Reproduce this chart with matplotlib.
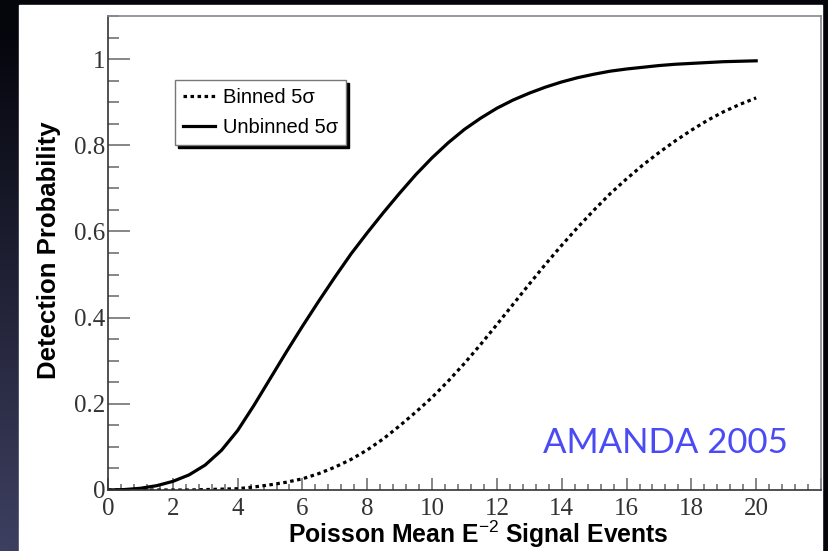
import matplotlib.pyplot as plt
import numpy as np
from matplotlib.patches import Rectangle
from matplotlib.ticker import MultipleLocator

plt.rcParams['mathtext.fontset'] = 'custom'
plt.rcParams['mathtext.rm'] = 'Liberation Sans'
plt.rcParams['mathtext.bf'] = 'Liberation Sans:bold'

# Poisson mean of E^-2 signal events
signal_events = [0.0, 0.5, 1.0, 1.5, 2.0, 2.5, 3.0, 3.5, 4.0, 4.5,
                 5.0, 5.5, 6.0, 6.5, 7.0, 7.5, 8.0, 8.5, 9.0, 9.5,
                 10.0, 10.5, 11.0, 11.5, 12.0, 12.5, 13.0, 13.5, 14.0, 14.5,
                 15.0, 15.5, 16.0, 16.5, 17.0, 17.5, 18.0, 18.5, 19.0, 19.5, 20.0]

# detection probability for a 5 sigma discovery
binned_5sigma = [0.000, 0.000, 0.000, 0.000, 0.000, 0.000, 0.001, 0.002, 0.003, 0.007,
                 0.012, 0.018, 0.026, 0.038, 0.053, 0.071, 0.093, 0.119, 0.149, 0.181,
                 0.215, 0.253, 0.294, 0.338, 0.384, 0.431, 0.478, 0.524, 0.568, 0.610,
                 0.650, 0.688, 0.722, 0.754, 0.783, 0.810, 0.835, 0.858, 0.878, 0.895, 0.910]
unbinned_5sigma = [0.000, 0.001, 0.004, 0.010, 0.020, 0.035, 0.058, 0.092, 0.138, 0.196,
                   0.258, 0.320, 0.380, 0.438, 0.494, 0.548, 0.597, 0.644, 0.689, 0.732,
                   0.771, 0.806, 0.837, 0.863, 0.886, 0.905, 0.921, 0.935, 0.947, 0.957,
                   0.965, 0.972, 0.977, 0.981, 0.985, 0.988, 0.990, 0.992, 0.994, 0.995, 0.996]

W, H = 829, 551
fig = plt.figure(figsize=(W / 100, H / 100), dpi=100)

# slide background: dark navy glow from the lower left, white panel on top
bg = fig.add_axes([0, 0, 1, 1])
bg.axis('off')
yy, xx = np.mgrid[0:H, 0:W]
glow = np.clip(1 - np.hypot(xx / 700.0, (H - yy) / 520.0), 0, 1)
dark = np.array([0.02, 0.02, 0.05])
navy = np.array([0.24, 0.25, 0.38])
bg.imshow(dark + glow[..., None] * (navy - dark), extent=(0, W, H, 0), aspect='auto')
bg.add_patch(Rectangle((19, 5), 803, 546, color='white'))
bg.set_xlim(0, W)
bg.set_ylim(H, 0)

ax = fig.add_axes([108 / W, 1 - 490 / H, 713 / W, 474 / H])
ax.plot(signal_events, binned_5sigma, color='black', lw=2.3,
        linestyle=(0, (1.1, 1.1)), dash_capstyle='butt', label='Binned 5σ')
ax.plot(signal_events, unbinned_5sigma, color='black', lw=2.3, label='Unbinned 5σ')

ax.set_xlim(0, 22)
ax.set_ylim(0, 1.1)
ax.xaxis.set_major_locator(MultipleLocator(2))
ax.xaxis.set_minor_locator(MultipleLocator(0.4))
ax.yaxis.set_major_locator(MultipleLocator(0.2))
ax.yaxis.set_minor_locator(MultipleLocator(0.05))
ax.xaxis.set_major_formatter(plt.FuncFormatter(lambda v, p: f'{v:g}' if v <= 20 else ''))
ax.yaxis.set_major_formatter(plt.FuncFormatter(lambda v, p: f'{v:g}'))

ax.tick_params(which='both', direction='in', color='#666666', width=1.1,
               labelcolor='#333333', labelsize=18)
ax.tick_params(axis='x', which='major', length=8.5, pad=6)
ax.tick_params(axis='x', which='minor', length=4.5)
ax.tick_params(axis='y', which='major', length=16, pad=2)
ax.tick_params(axis='y', which='minor', length=8)
for lab in ax.get_xticklabels() + ax.get_yticklabels():
    lab.set_family('Liberation Serif')

for side in ['left', 'bottom']:
    ax.spines[side].set_color('#333333')
    ax.spines[side].set_linewidth(1.2)
for side in ['top', 'right']:
    ax.spines[side].set_color('#888888')
    ax.spines[side].set_linewidth(1.2)

ax.set_ylabel('Detection Probability', family='Liberation Sans',
              fontweight='bold', fontsize=18.5)
ax.yaxis.set_label_coords(-0.066, 0.506)
ax.set_xlabel(r'Poisson Mean E$^{\mathrm{-2}}$ Signal Events', family='Liberation Sans',
              fontweight='bold', fontsize=17.8)
ax.xaxis.set_label_coords(0.519, -0.061)

leg = ax.legend(loc='upper left', bbox_to_anchor=(0.094, 0.865), fancybox=False,
                shadow={'color': 'black', 'alpha': 1.0}, framealpha=1,
                edgecolor='#777777', borderaxespad=0, handlelength=1.6,
                handletextpad=0.36, borderpad=0.4, labelspacing=0.55,
                prop={'family': 'Liberation Sans', 'size': 14.5})
leg.get_frame().set_linewidth(1.0)

ax.text(0.954, 0.078, 'AMANDA 2005', transform=ax.transAxes, ha='right', va='baseline',
        color='#4b4bf5', family='Lato', fontsize=25)

fig.savefig('out.png', dpi=100)
